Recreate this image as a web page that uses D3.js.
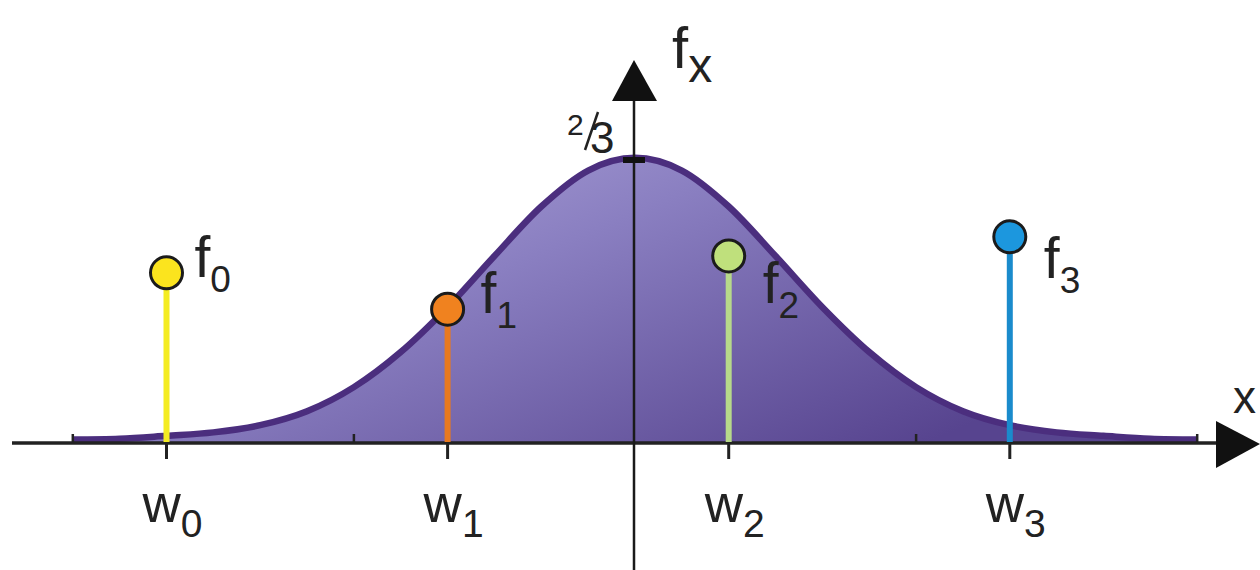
<!DOCTYPE html>
<html>
<head>
<meta charset="utf-8">
<script src="https://cdn.jsdelivr.net/npm/d3@7"></script>
<style>
  html, body { margin: 0; padding: 0; background: #fff; }
  svg { display: block; }
  text { font-family: "Liberation Sans", Arial, sans-serif; fill: #222; }
</style>
</head>
<body>
<svg id="chart"></svg>
<script>
// curve (x in units, f in value)
const curveX = [-6, -5.5, -5, -4.5, -4, -3.5, -3, -2.5, -2, -1.5, -1, -0.5, 0,
                0.5, 1, 1.5, 2, 2.5, 3, 3.5, 4, 4.5, 5, 5.5, 6];
const curveF = [0.001, 0.003, 0.010, 0.018, 0.035, 0.068, 0.125, 0.208, 0.314, 0.435, 0.552, 0.637, 0.667,
                0.637, 0.552, 0.435, 0.314, 0.208, 0.125, 0.068, 0.035, 0.018, 0.010, 0.003, 0.001];

// sample points
const stemIds = ["0", "1", "2", "3"];
const stemX = [-5, -2, 1, 4];
const stemF = [0.400, 0.314, 0.440, 0.485];

const axisTicks = [-6, -3, 3, 6];
const yTickValue = 2 / 3;

// styles
const stemColors = ["#f4ec22", "#e8791f", "#b7d98a", "#1a8bcc"];
const dotColors = ["#fbe41e", "#f0821f", "#bfe07c", "#1c97de"];
// f label offsets from the dot centre
const fLabelPos = [[28, 4], [33, 4], [34, 47], [34, 41]];

const width = 1260, height = 570;

const svg = d3.select("#chart")
  .attr("width", width)
  .attr("height", height);

const x = d3.scaleLinear().domain([-6, 6]).range([72.8, 1197.2]);
const y = d3.scaleLinear().domain([0, 1]).range([442, 19]);
const x0 = x(0) - 1;

const defs = svg.append("defs");
const grad = defs.append("linearGradient")
  .attr("id", "fillGrad")
  .attr("x1", "0").attr("y1", "0").attr("x2", "1").attr("y2", "0.6");
grad.append("stop").attr("offset", "0%").attr("stop-color", "#b6addf");
grad.append("stop").attr("offset", "45%").attr("stop-color", "#8a7fc1");
grad.append("stop").attr("offset", "100%").attr("stop-color", "#57448f");

const pts = curveX.map((d, i) => [d, curveF[i]]);

// filled curve
svg.append("path")
  .datum(pts)
  .attr("d", d3.area().x(d => x(d[0])).y0(y(0)).y1(d => y(d[1])).curve(d3.curveMonotoneX))
  .attr("fill", "url(#fillGrad)");

svg.append("path")
  .datum(pts)
  .attr("d", d3.line().x(d => x(d[0])).y(d => y(d[1]) - 2).curve(d3.curveMonotoneX))
  .attr("fill", "none")
  .attr("stroke", "#4b2e7e")
  .attr("stroke-width", 6.5);

// horizontal axis
svg.append("line")
  .attr("x1", 12).attr("x2", 1220)
  .attr("y1", y(0) + 1).attr("y2", y(0) + 1)
  .attr("stroke", "#222").attr("stroke-width", 3.5);

svg.selectAll(".mtick")
  .data(axisTicks)
  .join("line")
  .attr("class", "mtick")
  .attr("x1", d => x(d)).attr("x2", d => x(d))
  .attr("y1", y(0) - 8).attr("y2", y(0))
  .attr("stroke", "#222").attr("stroke-width", 2.5);

// vertical axis
svg.append("line")
  .attr("x1", x0).attr("x2", x0)
  .attr("y1", 98).attr("y2", height)
  .attr("stroke", "#1a1a1a").attr("stroke-width", 2.5);

svg.append("rect")
  .attr("x", x0 - 11).attr("y", y(yTickValue) - 3)
  .attr("width", 22).attr("height", 6)
  .attr("fill", "#111");

// arrows
svg.append("path")
  .attr("d", `M${x0},60 L${x0 + 23},101 L${x0 - 22},101 Z`)
  .attr("fill", "#111");
svg.append("path")
  .attr("d", `M1260,444 L1216,421 L1216,468 Z`)
  .attr("fill", "#111");

// stems
const stems = stemX.map((d, i) => ({ id: stemIds[i], x: d, f: stemF[i], i: i }));

svg.selectAll(".stick")
  .data(stems)
  .join("line")
  .attr("class", "stick")
  .attr("x1", d => x(d.x)).attr("x2", d => x(d.x))
  .attr("y1", y(0)).attr("y2", y(0) + 17)
  .attr("stroke", "#222").attr("stroke-width", 3);

svg.selectAll(".stem")
  .data(stems)
  .join("line")
  .attr("class", "stem")
  .attr("x1", d => x(d.x)).attr("x2", d => x(d.x))
  .attr("y1", d => y(d.f)).attr("y2", y(0))
  .attr("stroke", d => stemColors[d.i]).attr("stroke-width", 6);

svg.selectAll(".dot")
  .data(stems)
  .join("circle")
  .attr("class", "dot")
  .attr("cx", d => x(d.x)).attr("cy", d => y(d.f))
  .attr("r", 16)
  .attr("fill", d => dotColors[d.i])
  .attr("stroke", "#1b1b1b").attr("stroke-width", 3);

// f labels
const fl = svg.selectAll(".flab")
  .data(stems)
  .join("text")
  .attr("class", "flab")
  .attr("x", d => x(d.x) + fLabelPos[d.i][0])
  .attr("y", d => y(d.f) + fLabelPos[d.i][1])
  .style("font-size", "57px");
fl.append("tspan").text("f");
fl.append("tspan").attr("dy", 15).style("font-size", "37px").text(d => d.id);

// w labels
const wl = svg.selectAll(".wlab")
  .data(stems)
  .join("text")
  .attr("class", "wlab")
  .attr("x", d => x(d.x) - 24)
  .attr("y", 522)
  .style("font-size", "53px");
wl.append("tspan").text("w");
wl.append("tspan").attr("dy", 15).style("font-size", "39px").text(d => d.id);

// axis titles
const fx = svg.append("text")
  .attr("x", 672).attr("y", 68)
  .style("font-size", "58px");
fx.append("tspan").text("f");
fx.append("tspan").attr("dy", 14).style("font-size", "48px").text("x");

svg.append("text")
  .attr("x", 1233).attr("y", 413)
  .style("font-size", "46px")
  .text("x");

// 2/3 label
svg.append("text")
  .attr("x", 567).attr("y", 135)
  .style("font-size", "30px")
  .text("2");
svg.append("line")
  .attr("x1", 598).attr("y1", 112)
  .attr("x2", 585).attr("y2", 150)
  .attr("stroke", "#222").attr("stroke-width", 2.5);
svg.append("text")
  .attr("x", 590).attr("y", 153)
  .style("font-size", "44px")
  .text("3");
</script>
</body>
</html>
